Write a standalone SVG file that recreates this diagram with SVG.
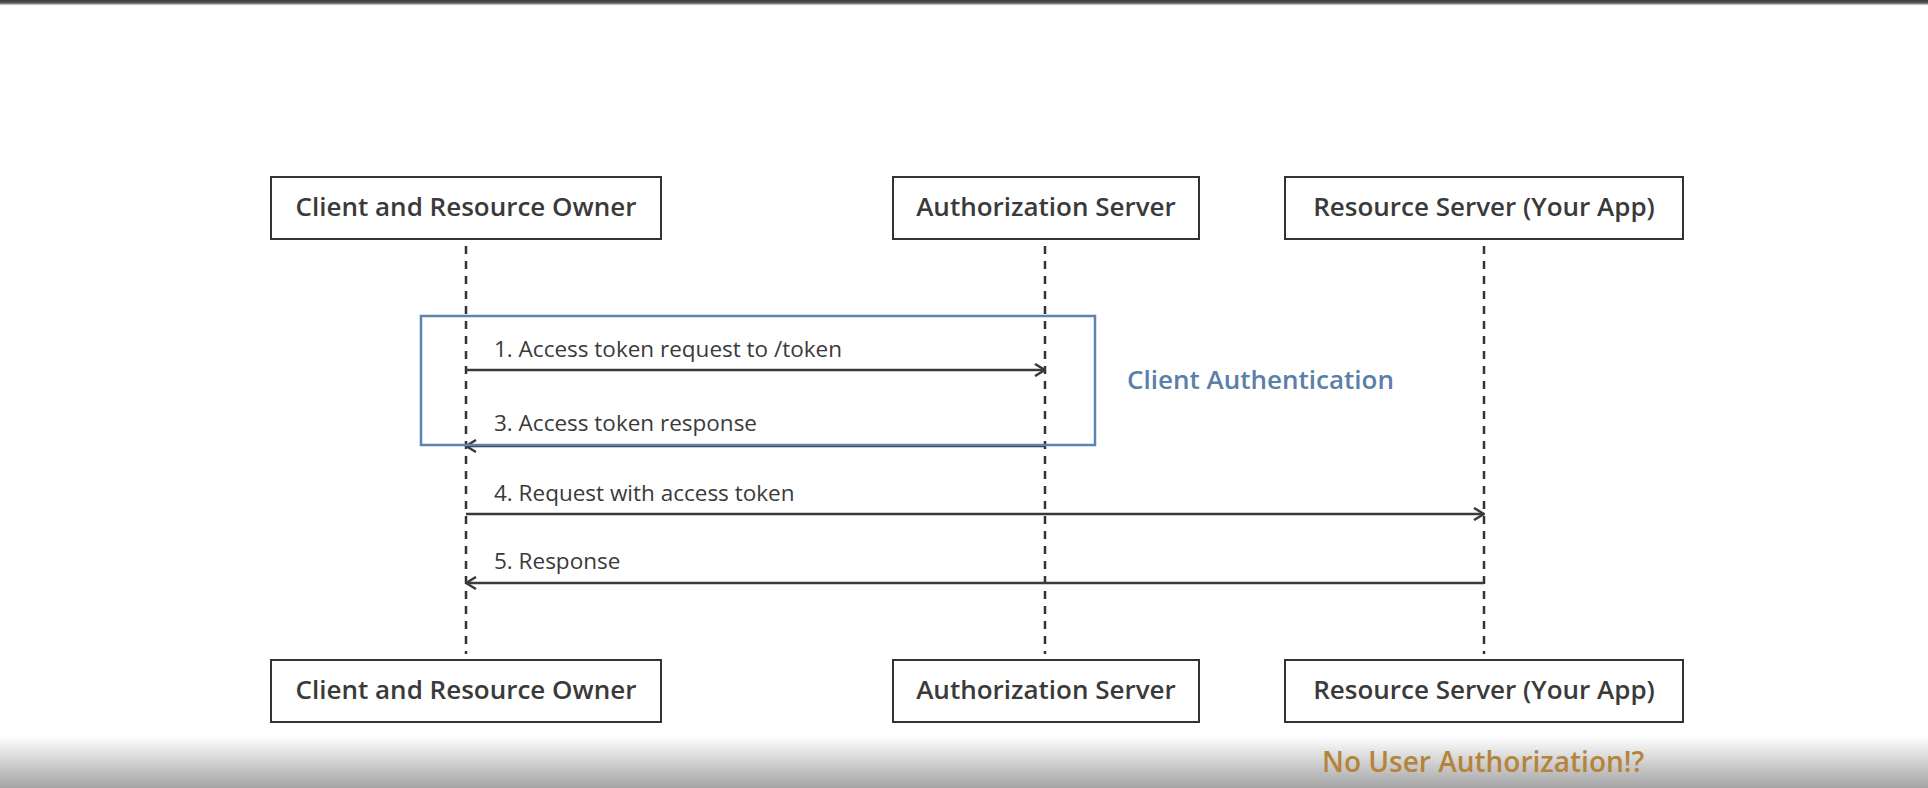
<svg xmlns="http://www.w3.org/2000/svg" width="1928" height="788" viewBox="0 0 1928 788">
<style>
.box{fill:#fff;stroke:#333;stroke-width:2}
.title{font-family:"Open Sans",Lato,sans-serif;font-size:26px;font-weight:600;fill:#3a3a3a;text-anchor:middle}
.life{stroke:#333;stroke-width:2.5;stroke-dasharray:8 7;fill:none}
.msg{stroke:#3a3a3a;stroke-width:2.5;fill:none}
.lbl{font-family:"Open Sans",Lato,sans-serif;font-size:22.5px;fill:#3a3a3a}
</style>
<defs>
<marker id="ah" viewBox="0 0 12 14" refX="11" refY="7" markerWidth="12" markerHeight="14" markerUnits="userSpaceOnUse" orient="auto">
<path d="M1,1 L11,7 L1,13" fill="none" stroke="#3a3a3a" stroke-width="2.5"/>
</marker>
<linearGradient id="topband" x1="0" y1="0" x2="0" y2="1">
<stop offset="0" stop-color="#3a3a3a"/><stop offset="0.6" stop-color="#5a5a5a"/><stop offset="1" stop-color="#e0e0e0"/>
</linearGradient>
<linearGradient id="botband" x1="0" y1="0" x2="0" y2="1">
<stop offset="0" stop-color="#ffffff"/><stop offset="1" stop-color="#a4a4a4"/>
</linearGradient>
</defs>
<rect x="0" y="0" width="1928" height="788" fill="#fff"/>
<rect x="0" y="736" width="1928" height="52" fill="url(#botband)"/>
<rect x="0" y="0" width="1928" height="5" fill="url(#topband)"/>

<g id="connectors">
<line class="life" x1="466" y1="246" x2="466" y2="654"/>
<line class="life" x1="1045" y1="246" x2="1045" y2="654"/>
<line class="life" x1="1484" y1="246" x2="1484" y2="654"/>
<line class="msg" x1="466" y1="370" x2="1045" y2="370" marker-end="url(#ah)"/>
<line class="msg" x1="1045" y1="446" x2="466" y2="446" marker-end="url(#ah)"/>
<line class="msg" x1="466" y1="514" x2="1484" y2="514" marker-end="url(#ah)"/>
<line class="msg" x1="1484" y1="583" x2="466" y2="583" marker-end="url(#ah)"/>
<text class="lbl" x="494" y="357">1. Access token request to /token</text>
<text class="lbl" x="494" y="431">3. Access token response</text>
<text class="lbl" x="494" y="501">4. Request with access token</text>
<text class="lbl" x="494" y="569">5. Response</text>
</g>

<g id="client-auth">
<rect x="421" y="316" width="674" height="129" fill="none" stroke="#5b84b0" stroke-width="2.5"/>
<text x="1127" y="389" font-family="'Open Sans',Lato,sans-serif" font-size="26" font-weight="600" fill="#5a7fa8">Client Authentication</text>
</g>

<g id="client-top"><rect class="box" x="271" y="177" width="390" height="62"/><text class="title" x="466" y="216">Client and Resource Owner</text></g>
<g id="auth-top"><rect class="box" x="893" y="177" width="306" height="62"/><text class="title" x="1046" y="216">Authorization Server</text></g>
<g id="rs-top"><rect class="box" x="1285" y="177" width="398" height="62"/><text class="title" x="1484" y="216">Resource Server (Your App)</text></g>
<g id="client-bottom"><rect class="box" x="271" y="660" width="390" height="62"/><text class="title" x="466" y="699">Client and Resource Owner</text></g>
<g id="auth-bottom"><rect class="box" x="893" y="660" width="306" height="62"/><text class="title" x="1046" y="699">Authorization Server</text></g>
<g id="rs-bottom"><rect class="box" x="1285" y="660" width="398" height="62"/><text class="title" x="1484" y="699">Resource Server (Your App)</text></g>

<g id="note"><text x="1322" y="772" font-family="'Open Sans',Lato,sans-serif" font-size="28" font-weight="600" fill="#b5843c">No User Authorization!?</text></g>
</svg>
